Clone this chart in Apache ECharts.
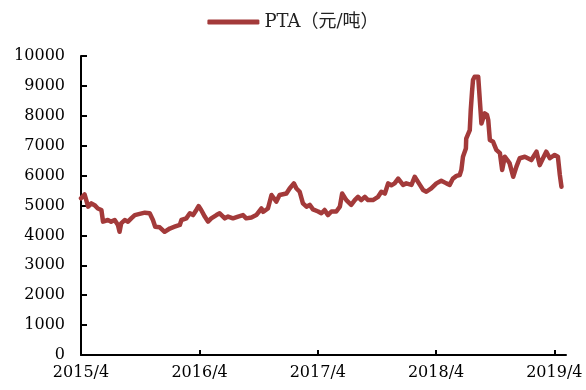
<!DOCTYPE html>
<html>
<head>
<meta charset="utf-8">
<title>PTA</title>
<script src="https://cdn.jsdelivr.net/npm/echarts@6/dist/echarts.min.js"></script>
<style>
  html, body { margin: 0; padding: 0; background: #fff; }
  #chart { width: 586px; height: 390px; }
</style>
</head>
<body>
<div id="chart"></div>
<script>
// PTA spot price, yuan per tonne
const seriesName = 'PTA（元/吨）';

const dates = [
  '2015-04-01','2015-04-12','2015-04-23','2015-05-03','2015-05-13','2015-05-23','2015-06-03','2015-06-08',
  '2015-06-23','2015-07-03','2015-07-14','2015-07-24','2015-07-29','2015-08-03','2015-08-14','2015-08-24',
  '2015-09-03','2015-09-14','2015-09-29','2015-10-15','2015-10-30','2015-11-09','2015-11-16','2015-11-30',
  '2015-12-15','2015-12-31','2016-01-15','2016-01-31','2016-02-05','2016-02-20','2016-03-02','2016-03-12',
  '2016-03-22','2016-03-29','2016-04-06','2016-04-17','2016-04-27','2016-05-07','2016-05-23','2016-06-02',
  '2016-06-18','2016-06-28','2016-07-13','2016-07-29','2016-08-13','2016-08-23','2016-09-08','2016-09-23',
  '2016-10-09','2016-10-14','2016-10-29','2016-11-09','2016-11-24','2016-12-04','2016-12-25','2017-01-04',
  '2017-01-17','2017-01-25','2017-02-04','2017-02-14','2017-02-25','2017-03-07','2017-03-17','2017-04-02',
  '2017-04-12','2017-04-22','2017-05-02','2017-05-13','2017-05-28','2017-06-08','2017-06-15','2017-06-28',
  '2017-07-13','2017-07-24','2017-08-03','2017-08-13','2017-08-24','2017-09-03','2017-09-18','2017-10-04',
  '2017-10-14','2017-10-25','2017-11-04','2017-11-14','2017-11-24','2017-12-05','2017-12-20','2017-12-30',
  '2018-01-15','2018-01-25','2018-01-30','2018-02-10','2018-02-20','2018-03-02','2018-03-17','2018-04-02',
  '2018-04-17','2018-05-03','2018-05-13','2018-05-23','2018-06-03','2018-06-13','2018-06-18','2018-06-23',
  '2018-07-02','2018-07-03','2018-07-14','2018-07-17','2018-07-21','2018-07-24','2018-07-29','2018-08-09',
  '2018-08-15','2018-08-19','2018-08-29','2018-09-05','2018-09-09','2018-09-14','2018-09-24','2018-10-04',
  '2018-10-15','2018-10-22','2018-10-30','2018-11-07','2018-11-14','2018-11-25','2018-12-05','2018-12-15',
  '2018-12-31','2019-01-20','2019-02-05','2019-02-15','2019-02-25','2019-03-07','2019-03-18','2019-04-02',
  '2019-04-12','2019-04-18','2019-04-23'
];

const prices = [
  5240, 5370, 4960, 5070, 5010, 4900, 4850, 4460,
  4515, 4460, 4515, 4350, 4120, 4400, 4515, 4460,
  4570, 4680, 4720, 4760, 4740, 4515, 4290, 4270,
  4120, 4230, 4290, 4350, 4515, 4570, 4740, 4680,
  4850, 4980, 4850, 4630, 4460, 4570, 4680, 4740,
  4570, 4630, 4570, 4630, 4680, 4570, 4600, 4680,
  4900, 4790, 4900, 5350, 5130, 5350, 5400, 5570,
  5740, 5570, 5460, 5070, 4960, 5020, 4870, 4800,
  4740, 4850, 4680, 4800, 4800, 4960, 5400, 5180,
  5020, 5180, 5290, 5180, 5290, 5180, 5180, 5290,
  5460, 5400, 5740, 5680, 5740, 5900, 5690, 5740,
  5690, 5960, 6020, 5690, 5520, 5460, 5570, 5740,
  5830, 5740, 5690, 5900, 5990, 6020, 6190, 6630,
  6910, 7240, 7520, 8190, 8810, 9200, 9310, 9310,
  9250, 7740, 8080, 8030, 7860, 7190, 7130, 6860,
  6750, 6190, 6630, 6520, 6410, 5960, 6300, 6580,
  6630, 6520, 6800, 6350, 6580, 6800, 6580, 6690,
  6630, 6020, 5630
];

// x-axis: April of each year
const tickYears = [2015, 2016, 2017, 2018, 2019];
const tickMonth = 4;
const axisStart = '2015-04-01';
const axisEnd = '2019-05-07';

// y-axis range
const yMin = 0;
const yMax = 10000;
const yStep = 1000;

function toTime(s) {
  const p = s.split('-').map(Number);
  return Date.UTC(p[0], p[1] - 1, p[2]);
}

const tickValues = tickYears.map(y => Date.UTC(y, tickMonth - 1, 1));
const points = dates.map((d, i) => [toTime(d), prices[i]]);

const lineColor = '#A33A3A';

const chart = echarts.init(document.getElementById('chart'), null, { renderer: 'canvas' });

const labelFont = {
  color: '#000',
  fontFamily: '"DejaVu Serif", "Liberation Serif", serif',
  fontSize: 16
};

chart.setOption({
  animation: false,
  backgroundColor: '#fff',
  legend: {
    top: 8,
    left: 'center',
    itemWidth: 52,
    itemHeight: 5,
    itemGap: 10,
    textStyle: {
      color: '#222',
      fontFamily: '"DejaVu Serif", "Noto Sans CJK SC", serif',
      fontSize: 18
    },
    data: [{ name: seriesName, icon: 'roundRect' }]
  },
  grid: { left: 81, right: 20, top: 56, bottom: 35 },
  xAxis: {
    type: 'value',
    min: toTime(axisStart),
    max: toTime(axisEnd),
    splitLine: { show: false },
    axisLine: { lineStyle: { color: '#000', width: 2 } },
    axisTick: {
      inside: true,
      length: 5,
      lineStyle: { color: '#000', width: 2 },
      customValues: tickValues
    },
    axisLabel: Object.assign({
      margin: 10,
      customValues: tickValues,
      formatter: function (v) {
        const d = new Date(v);
        return d.getUTCFullYear() + '/' + (d.getUTCMonth() + 1);
      }
    }, labelFont)
  },
  yAxis: {
    type: 'value',
    min: yMin,
    max: yMax,
    interval: yStep,
    splitLine: { show: false },
    axisLine: { show: true, lineStyle: { color: '#000', width: 2 } },
    axisTick: { show: true, inside: true, length: 6, lineStyle: { color: '#000', width: 2 } },
    axisLabel: Object.assign({
      margin: 16,
      formatter: function (v) { return String(v); }
    }, labelFont)
  },
  series: [{
    name: seriesName,
    type: 'line',
    data: points,
    symbol: 'none',
    smooth: false,
    lineStyle: { color: lineColor, width: 4.5, join: 'round', cap: 'round' },
    itemStyle: { color: lineColor }
  }]
});
</script>
</body>
</html>
